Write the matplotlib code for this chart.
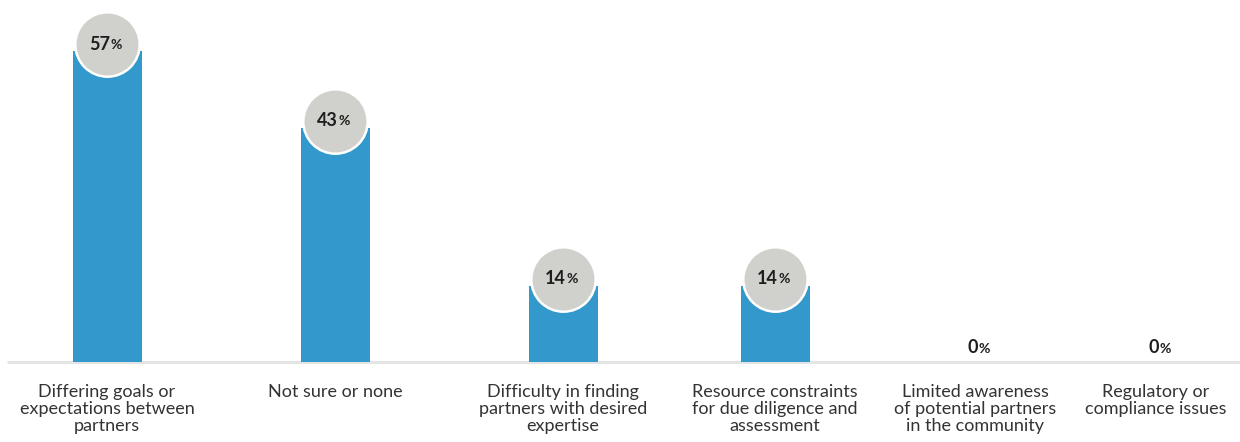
import matplotlib.pyplot as plt

# ------------------ Data ------------------ #
categories = [
    "Differing goals or\nexpectations between\npartners",
    "Not sure or none",
    "Difficulty in finding\npartners with desired\nexpertise",
    "Resource constraints\nfor due diligence and\nassessment",
    "Limited awareness\nof potential partners\nin the community",
    "Regulatory or\ncompliance issues",
]
values = [57, 43, 14, 14, 0, 0]
value_labels = ["57", "43", "14", "14", "0", "0"]

# layout (pixel positions of the category centres)
positions = [107, 335, 563, 775, 975, 1156]

BLUE = "#3399cc"
GREY = "#d0d0cc"
TEXT = "#1e1e1e"
FONT = ["Lato", "DejaVu Sans"]

W, H = 1240, 442
fig = plt.figure(figsize=(W / 100, H / 100), dpi=100)
ax = fig.add_axes([0, 0, 1, 1])

px_per_unit = 5.45
base_px = 80  # baseline distance from bottom, in pixels
ax.set_xlim(0, W)
ax.set_ylim(-base_px / px_per_unit, (H - base_px) / px_per_unit)
ax.axis("off")

# baseline
ax.plot([7, W], [0, 0], color="#e4e4e4", linewidth=2.2, zorder=1, solid_capstyle="butt")

ax.bar(positions, values, width=69, color=BLUE, zorder=2)

for x, v, lab, cat in zip(positions, values, value_labels, categories):
    if v > 0:
        cy = v + 1.3
        ax.scatter([x], [cy], s=2150, color=GREY, edgecolors="white",
                   linewidths=1.8, zorder=3)
    else:
        cy = 2.6
    ax.text(x + 3, cy, lab, ha="right", va="center", fontsize=13,
            fontweight="bold", color=TEXT, family=FONT, zorder=4)
    ax.text(x + 3.5, cy - 0.15, "%", ha="left", va="center", fontsize=10,
            fontweight="bold", color=TEXT, family=FONT, zorder=4)
    ax.text(x, -4.0, cat, ha="center", va="top", fontsize=13,
            color="#333333", family=FONT, fontweight="normal", linespacing=1.08)

fig.savefig("out.png", dpi=100)
